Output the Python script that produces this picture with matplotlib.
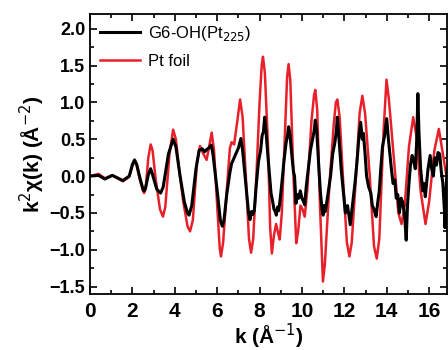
import matplotlib
matplotlib.use("Agg")
import matplotlib.pyplot as plt
from matplotlib.ticker import MultipleLocator

plt.rcParams['font.family'] = ['Liberation Sans', 'DejaVu Sans']

# Pt foil (red)
k_foil = [0.0, 0.4, 0.7, 1.05, 1.55, 1.85, 2.0, 2.1, 2.2, 2.35, 2.5, 2.55, 2.62, 2.75,
          2.86, 2.95, 3.1, 3.3, 3.44, 3.55, 3.75, 3.92, 4.05, 4.2, 4.4, 4.6, 4.72, 4.85,
          5.05, 5.19, 5.35, 5.5, 5.62, 5.74, 5.85, 6.0, 6.12, 6.18, 6.28, 6.45, 6.6, 6.68,
          6.8, 6.95, 7.08, 7.2, 7.35, 7.5, 7.6, 7.7, 7.85, 8.0, 8.1, 8.16, 8.25, 8.4, 8.5,
          8.58, 8.68, 8.78, 8.88, 8.95, 9.05, 9.2, 9.3, 9.37, 9.45, 9.6, 9.73, 9.82, 9.93,
          10.03, 10.13, 10.25, 10.45, 10.57, 10.63, 10.72, 10.85, 10.99, 11.08, 11.3, 11.5,
          11.6, 11.67, 11.78, 11.95, 12.12, 12.24, 12.35, 12.55, 12.72, 12.85, 12.98, 13.2,
          13.4, 13.53, 13.65, 13.85, 13.99, 14.1, 14.35, 14.55, 14.7, 14.85, 15.05, 15.25,
          15.4, 15.6, 15.83, 16.0, 16.25, 16.46, 16.65, 16.9]
chi_foil = [0.0, 0.03, -0.03, 0.01, -0.07, -0.01, 0.14, 0.2, 0.15, -0.05, -0.2, -0.23, -0.18, 0.25,
            0.43, 0.35, -0.05, -0.45, -0.55, -0.42, 0.3, 0.63, 0.5, 0.1, -0.35, -0.68, -0.75, -0.6,
            0.2, 0.41, 0.3, 0.22, 0.4, 0.59, 0.35, -0.4, -0.98, -1.09, -0.9, -0.2, 0.38, 0.46,
            0.43, 0.75, 1.04, 0.8, 0.0, -0.85, -1.04, -0.85, 0.0, 1.0, 1.5, 1.62, 1.4, 0.4, -0.7,
            -1.05, -0.8, -0.65, -0.78, -0.86, -0.5, 0.6, 1.35, 1.52, 1.3, 0.0, -0.91, -0.75, -0.4,
            -0.45, -0.55, -0.2, 0.75, 1.1, 1.17, 0.9, -0.4, -1.43, -1.2, -0.1, 0.7,
            1.0, 1.04, 0.8, -0.1, -0.9, -1.09, -0.9, 0.0, 0.85, 1.09, 0.85, 0.0,
            -0.95, -1.12, -0.85, 0.6, 1.31, 1.05, 0.2, -0.5, -0.65, -0.4, 0.4, 0.8,
            0.55, -0.2, -0.65, -0.35, 0.35, 0.64, 0.3, -0.14]

# G6-OH(Pt225) (black)
k_g6 = [0.0, 0.4, 0.7, 1.05, 1.55, 1.85, 2.0, 2.1, 2.2, 2.35, 2.5, 2.55, 2.62, 2.75, 2.86,
        2.95, 3.15, 3.33, 3.45, 3.7, 3.92, 4.05, 4.25, 4.45, 4.6, 4.67, 4.8, 5.0, 5.15, 5.3,
        5.4, 5.5, 5.6, 5.72, 5.8, 6.0, 6.15, 6.24, 6.32, 6.45, 6.6, 6.68, 6.8, 6.9, 7.0,
        7.12, 7.2, 7.35, 7.48, 7.55, 7.62, 7.68, 7.75, 7.85, 7.95, 8.05, 8.12, 8.18, 8.24,
        8.3, 8.4, 8.54, 8.62, 8.68, 8.74, 8.79, 8.85, 8.9, 8.95, 9.05, 9.15, 9.25, 9.32,
        9.37, 9.43, 9.5, 9.6, 9.65, 9.72, 9.78, 9.85, 9.92, 10.0, 10.08, 10.13, 10.2, 10.3,
        10.4, 10.5, 10.58, 10.63, 10.7, 10.8, 10.88, 10.95, 11.0, 11.05, 11.1, 11.2, 11.35,
        11.45, 11.55, 11.62, 11.67, 11.75, 11.85, 11.95, 12.05, 12.15, 12.28, 12.38, 12.5,
        12.6, 12.68, 12.77, 12.85, 12.9, 12.98, 13.05, 13.15, 13.25, 13.32, 13.4, 13.5,
        13.58, 13.65, 13.72, 13.8, 13.9, 14.0, 14.08, 14.15, 14.22, 14.3, 14.38, 14.45,
        14.52, 14.6, 14.68, 14.75, 14.85, 14.92, 14.98, 15.05, 15.12, 15.2, 15.28, 15.35,
        15.42, 15.47, 15.52, 15.6, 15.7, 15.76, 15.82, 15.9, 15.95, 16.05, 16.12, 16.2,
        16.28, 16.35, 16.42, 16.5, 16.58, 16.65, 16.72, 16.75, 16.8, 16.85]
chi_g6 = [0.0, 0.01, -0.04, 0.01, -0.06, 0.0, 0.16, 0.22, 0.16, -0.02, -0.18, -0.2, -0.16, 0.02, 0.1,
          0.02, -0.18, -0.23, -0.15, 0.3, 0.5, 0.4, 0.0, -0.35, -0.5, -0.53, -0.4, 0.1, 0.35, 0.37,
          0.33, 0.36, 0.38, 0.42, 0.3, -0.2, -0.6, -0.68, -0.6, -0.25, 0.05, 0.17, 0.25, 0.32, 0.38,
          0.51, 0.35, -0.1, -0.5, -0.59, -0.48, -0.52, -0.47, -0.1, 0.2, 0.35, 0.55, 0.6, 0.8,
          0.62, 0.25, -0.23, -0.35, -0.45, -0.48, -0.53, -0.42, -0.47, -0.37, -0.1, 0.2, 0.45, 0.55,
          0.67, 0.58, 0.35, 0.06, 0.0, -0.37, -0.25, -0.3, -0.2, -0.3, -0.35, -0.39, -0.15, 0.1,
          0.35, 0.5, 0.62, 0.76, 0.6, 0.1, -0.25, -0.45, -0.53, -0.4, -0.48, -0.3, 0.0,
          0.3, 0.45, 0.6, 0.8, 0.5, 0.1, -0.2, -0.5, -0.4, -0.66, -0.4, -0.1,
          0.2, 0.5, 0.73, 0.5, 0.58, 0.3, 0.0, -0.15, -0.23, -0.4, -0.45, -0.55,
          -0.35, -0.2, 0.1, 0.4, 0.55, 0.78, 0.5, 0.3, 0.1, -0.1, -0.05, -0.3,
          -0.25, -0.5, -0.3, -0.35, -0.55, -0.87, -0.4, -0.1, 0.15, 0.28, 0.2, 0.1,
          0.5, 1.12, 0.6, 0.1, -0.2, -0.1, -0.28, -0.05, 0.1, 0.28, 0.1, 0.0,
          0.25, 0.15, 0.32, 0.3, 0.05, -0.1, -0.45, -0.7, -0.2, 0.1]

fig = plt.figure(figsize=(4.48, 3.5), dpi=100)
ax = fig.add_axes([0.201, 0.16, 0.797, 0.80])

ax.plot(k_g6, chi_g6, color='black', lw=2.2, label='G6-OH(Pt$_{225}$)', zorder=3)
ax.plot(k_foil, chi_foil, color='#e8202a', lw=1.8, label='Pt foil', zorder=2)

ax.set_xlim(0, 16.85)
ax.set_ylim(-1.6, 2.2)
ax.xaxis.set_major_locator(MultipleLocator(2))
ax.xaxis.set_minor_locator(MultipleLocator(1))
ax.yaxis.set_major_locator(MultipleLocator(0.5))
ax.yaxis.set_minor_locator(MultipleLocator(0.25))
ax.tick_params(which='both', direction='in', top=True, right=True, width=1.2)
ax.tick_params(which='major', length=5)
ax.tick_params(which='minor', length=3)
ax.tick_params(axis='x', which='both', labelsize=15, pad=6)
ax.tick_params(axis='y', which='both', labelsize=13)
ax.set_xticks([0, 2, 4, 6, 8, 10, 12, 14, 16])
for lbl in ax.get_xticklabels() + ax.get_yticklabels():
    lbl.set_fontweight('bold')
for s in ax.spines.values():
    s.set_linewidth(1.3)

ax.set_xlabel('k (Å$^{-1}$)', fontsize=15, fontweight='bold', labelpad=0)
ax.set_ylabel('k$^2$χ(k) (Å$^{-2}$)', fontsize=15, fontweight='bold', labelpad=2)

ax.legend(loc='upper left', frameon=False, fontsize=12, handlelength=2.4,
          borderaxespad=0.2, labelspacing=0.65, handletextpad=0.5)

fig.savefig('out.png', dpi=100)
